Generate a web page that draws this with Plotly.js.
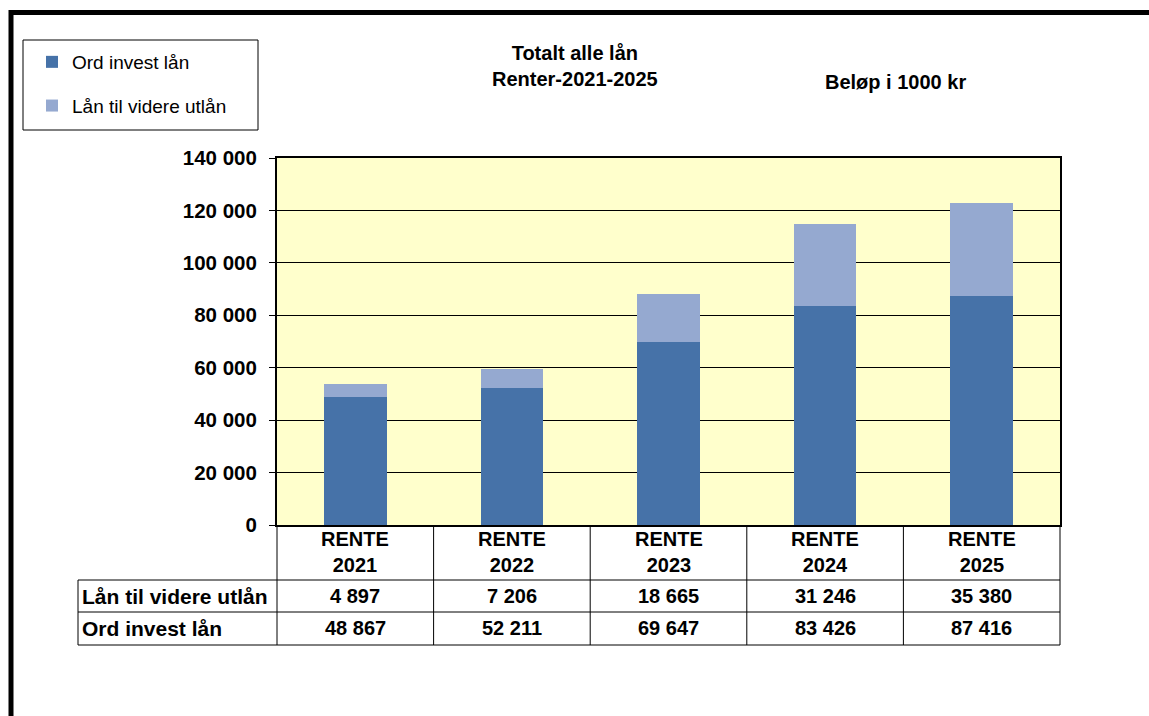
<!DOCTYPE html>
<html><head><meta charset="utf-8">
<script src="https://cdn.plot.ly/plotly-3.0.1.min.js"></script>
<style>html,body{margin:0;padding:0;background:#fff;}#chart{width:1149px;height:716px;}</style>
</head><body><div id="chart"></div>
<script>
const categories = ["RENTE 2021","RENTE 2022","RENTE 2023","RENTE 2024","RENTE 2025"];
const headerLines = [["RENTE","2021"],["RENTE","2022"],["RENTE","2023"],["RENTE","2024"],["RENTE","2025"]];
const ordInvest = [48867, 52211, 69647, 83426, 87416];
const videreUtlan = [4897, 7206, 18665, 31246, 35380];
const seriesNames = ["Ord invest lån", "Lån til videre utlån"];
const tableRows = ["Lån til videre utlån", "Ord invest lån"];
const yTicks = [0, 20000, 40000, 60000, 80000, 100000, 120000, 140000];

const W = 1149, H = 716;
const L = 277, R = 1060, T = 158, B = 525;
const px = x => (x - L) / (R - L);
const py = y => (B - y) / (B - T);
const fmt = v => String(v).replace(/\B(?=(\d{3})+(?!\d))/g, ' ');
const FONT = 'Liberation Sans, Arial, sans-serif';

const traces = [
  {type:'bar', x:categories, y:ordInvest, name:seriesNames[0], legendgroup:'a',
   marker:{color:'#4672A8'}, hoverinfo:'y'},
  {type:'bar', x:categories, y:videreUtlan, name:seriesNames[1], legendgroup:'b',
   marker:{color:'#95A9D0'}, hoverinfo:'y'}
];

const shapes = [];
const annotations = [];
const colW = (R - L) / categories.length;
const lineStyle = {color:'#000', width:1};
// outer border
shapes.push({type:'rect', xref:'paper', yref:'paper', x0:px(11), x1:px(1170), y0:py(12.5), y1:py(740), line:{color:'#000', width:5}, layer:'above'});
// legend box
shapes.push({type:'rect', xref:'paper', yref:'paper', x0:px(23), x1:px(258), y0:py(130), y1:py(40), line:{color:'#000', width:1}});
// table horizontal lines
[580, 612, 645].forEach(y => shapes.push({type:'line', xref:'paper', yref:'paper', x0:px(78), x1:px(R), y0:py(y), y1:py(y), line:lineStyle}));
// table vertical lines
shapes.push({type:'line', xref:'paper', yref:'paper', x0:px(78), x1:px(78), y0:py(580), y1:py(645), line:lineStyle});
for (let i = 0; i <= categories.length; i++) {
  const x = L + i * colW;
  shapes.push({type:'line', xref:'paper', yref:'paper', x0:px(x), x1:px(x), y0:py(B), y1:py(645), line:lineStyle});
}
const tf = {family:FONT, size:20, color:'#000'};
categories.forEach((c, i) => {
  const xc = px(L + (i + 0.5) * colW);
  annotations.push({xref:'paper', yref:'paper', x:xc, y:py(552), text:'<b>' + headerLines[i].join('<br>') + '</b>', showarrow:false, font:tf, xanchor:'center', yanchor:'middle'});
  annotations.push({xref:'paper', yref:'paper', x:xc, y:py(596), text:'<b>' + fmt(videreUtlan[i]) + '</b>', showarrow:false, font:tf, xanchor:'center', yanchor:'middle'});
  annotations.push({xref:'paper', yref:'paper', x:xc, y:py(628), text:'<b>' + fmt(ordInvest[i]) + '</b>', showarrow:false, font:tf, xanchor:'center', yanchor:'middle'});
});
annotations.push({xref:'paper', yref:'paper', x:px(80), y:py(596), text:'<b>' + tableRows[0] + '</b>', showarrow:false, font:{family:FONT, size:21, color:'#000'}, xanchor:'left', yanchor:'middle'});
annotations.push({xref:'paper', yref:'paper', x:px(80), y:py(628), text:'<b>' + tableRows[1] + '</b>', showarrow:false, font:{family:FONT, size:21, color:'#000'}, xanchor:'left', yanchor:'middle'});
// subtitle right
annotations.push({xref:'paper', yref:'paper', x:px(895), y:py(82), text:'<b>Beløp i 1000 kr</b>', showarrow:false, font:{family:FONT, size:20, color:'#000'}, xanchor:'center', yanchor:'middle'});
// title
annotations.push({xref:'paper', yref:'paper', x:px(575), y:py(66), text:'<b>Totalt alle lån<br>Renter-2021-2025</b>', showarrow:false, font:{family:FONT, size:20, color:'#000'}, xanchor:'center', yanchor:'middle'});

const layout = {
  width:W, height:H,
  margin:{l:L, r:W - R, t:T, b:H - B, pad:0},
  paper_bgcolor:'#fff', plot_bgcolor:'#FFFFCC',
  barmode:'stack', bargap:0.6,
  separators:', ',
  font:{family:FONT, color:'#000'},
  xaxis:{showticklabels:false, ticks:'', showline:true, mirror:true, linecolor:'#000', linewidth:2, showgrid:false, fixedrange:true},
  yaxis:{range:[0,140000], tickvals:yTicks, ticktext:yTicks.map(v => '<b>' + fmt(v) + '</b>'), ticks:'outside', ticklen:6, tickcolor:'#000', tickwidth:1,
         ticklabelstandoff:8, showline:true, mirror:true, linecolor:'#000', linewidth:2, showgrid:true, gridcolor:'#000', gridwidth:1,
         tickfont:{family:FONT, size:20.5, color:'#000'}, zeroline:false, fixedrange:true},
  showlegend:true,
  legend:{x:px(32), xanchor:'left', y:py(43), yanchor:'top', bgcolor:'rgba(0,0,0,0)', borderwidth:0, traceorder:'grouped', tracegroupgap:16,
          font:{family:FONT, size:19, color:'#000'}},
  shapes:shapes, annotations:annotations
};
Plotly.newPlot('chart', traces, layout, {displayModeBar:false, staticPlot:true});
</script></body></html>
